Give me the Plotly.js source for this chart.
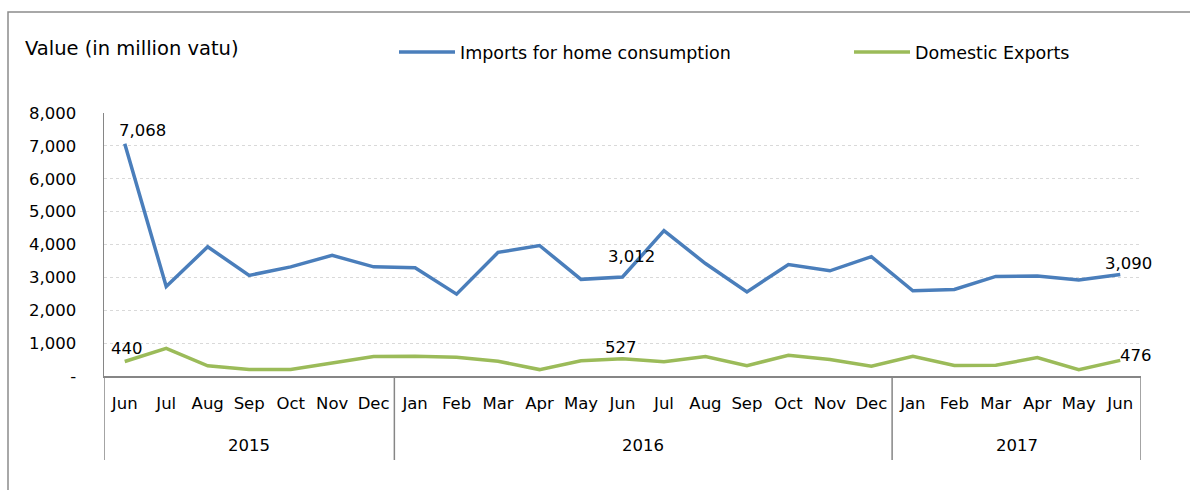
<!DOCTYPE html>
<html>
<head>
<meta charset="utf-8">
<script src="https://cdn.plot.ly/plotly-3.0.1.min.js"></script>
<style>
html,body{margin:0;padding:0;background:#fff;}
#chart{width:1190px;height:490px;}
</style>
</head>
<body>
<div id="chart"></div>
<script>
const years = ['2015','2015','2015','2015','2015','2015','2015',
  '2016','2016','2016','2016','2016','2016','2016','2016','2016','2016','2016','2016',
  '2017','2017','2017','2017','2017','2017'];
const months = ['Jun','Jul','Aug','Sep','Oct','Nov','Dec',
  'Jan','Feb','Mar','Apr','May','Jun','Jul','Aug','Sep','Oct','Nov','Dec',
  'Jan','Feb','Mar','Apr','May','Jun'];
const imports = [7068, 2720, 3930, 3060, 3320, 3670, 3320,
  3290, 2490, 3760, 3970, 2940, 3012, 4420, 3420, 2560, 3390, 3200, 3630,
  2590, 2630, 3030, 3040, 2920, 3090];
const exports = [440, 840, 310, 200, 200, 385, 595,
  600, 570, 450, 195, 465, 527, 435, 590, 315, 630, 505, 295,
  600, 320, 325, 560, 195, 476];
const labelIdx = [0, 12, 24];
const yTickVals = [0,1000,2000,3000,4000,5000,6000,7000,8000];
const yTickText = ['-','1,000','2,000','3,000','4,000','5,000','6,000','7,000','8,000'];
const seriesNames = ['Imports for home consumption','Domestic Exports'];

function fmt(n){return String(n).replace(/\B(?=(\d{3})+(?!\d))/g, ',');}

const cats = months.map((m,i)=>m+' '+years[i]);

// year groups
const groups = [];
years.forEach((y,i)=>{
  if(!groups.length || groups[groups.length-1].year!==y) groups.push({year:y,start:i,end:i});
  else groups[groups.length-1].end=i;
});

const FONT = 'DejaVu Sans, sans-serif';
const FS = 16.5;
const AX = '#868686';

const data = [
  {x:cats, y:imports, type:'scatter', mode:'lines', name:seriesNames[0],
   line:{color:'#4a7ebb', width:3.5}, legend:'legend'},
  {x:cats, y:exports, type:'scatter', mode:'lines', name:seriesNames[1],
   line:{color:'#9bbb59', width:3.5}, legend:'legend2'}
];

const shapes = [{type:'rect', xref:'paper', yref:'paper',
  x0:(8-104)/1037, x1:(1200-104)/1037, y0:-(130/263), y1:1+(101/263),
  line:{color:'#8c8c8c', width:1.5}, fillcolor:'rgba(0,0,0,0)', layer:'below'}];
const annotations = [];
groups.forEach((g,k)=>{
  if(k===0) shapes.push({type:'line', xref:'x', yref:'paper', x0:g.start-0.5, x1:g.start-0.5, y0:0, y1:-(84/263), line:{color:AX,width:1.5}});
  shapes.push({type:'line', xref:'x', yref:'paper', x0:g.end+0.5, x1:g.end+0.5, y0:0, y1:-(84/263), line:{color:AX,width:1.5}});
  annotations.push({xref:'x', yref:'paper', x:(g.start+g.end)/2, y:-(69/263), yanchor:'middle', xanchor:'center',
    text:g.year, showarrow:false, font:{family:FONT, size:FS, color:'#000'}});
});

// data labels (pixel offsets of label centre from its point)
const impShift = [[18,13],[9,20],[8,11]];
const expShift = [[2,13],[-2,11],[16,5]];
labelIdx.forEach((i,k)=>{
  annotations.push({xref:'x', yref:'y', x:cats[i], y:imports[i], text:fmt(imports[i]), showarrow:false,
    xanchor:'center', yanchor:'middle', xshift:impShift[k][0], yshift:impShift[k][1],
    font:{family:FONT, size:FS, color:'#000'}});
  annotations.push({xref:'x', yref:'y', x:cats[i], y:exports[i], text:fmt(exports[i]), showarrow:false,
    xanchor:'center', yanchor:'middle', xshift:expShift[k][0], yshift:expShift[k][1],
    font:{family:FONT, size:FS, color:'#000'}});
});

const layout = {
  width:1190, height:490,
  margin:{l:104, r:49, t:113, b:114},
  paper_bgcolor:'#fff', plot_bgcolor:'#fff',
  font:{family:FONT, size:FS, color:'#000'},
  title:{text:'Value (in million vatu)', xref:'container', yref:'container',
         x:25/1190, xanchor:'left', y:1-48/490, yanchor:'middle',
         font:{family:FONT, size:19.5, color:'#000'}},
  showlegend:true,
  legend:{orientation:'h', x:(394-104)/1037, xanchor:'left', y:1+(61/263), yanchor:'middle',
          itemwidth:56, font:{family:FONT, size:17.5, color:'#000'}, bgcolor:'rgba(0,0,0,0)'},
  legend2:{orientation:'h', x:(849-104)/1037, xanchor:'left', y:1+(61/263), yanchor:'middle',
          itemwidth:56, font:{family:FONT, size:17.5, color:'#000'}, bgcolor:'rgba(0,0,0,0)'},
  xaxis:{type:'category', categoryorder:'array', categoryarray:cats,
         tickvals:cats, ticktext:months, range:[-0.5, cats.length-0.5],
         showline:true, linecolor:AX, linewidth:1.5,
         showgrid:false, ticks:'', tickangle:0, ticklabelstandoff:12,
         tickfont:{family:FONT, size:FS, color:'#000'}},
  yaxis:{range:[0,8000], tickvals:yTickVals, ticktext:yTickText,
         showline:true, linecolor:AX, linewidth:1.5,
         showgrid:true, gridcolor:'#d9d9d9', griddash:'dot', gridwidth:1,
         zeroline:false, ticks:'', ticklabelstandoff:23,
         tickfont:{family:FONT, size:FS, color:'#000'}},
  shapes:shapes,
  annotations:annotations
};

Plotly.newPlot('chart', data, layout, {displayModeBar:false, staticPlot:true});
</script>
</body>
</html>
